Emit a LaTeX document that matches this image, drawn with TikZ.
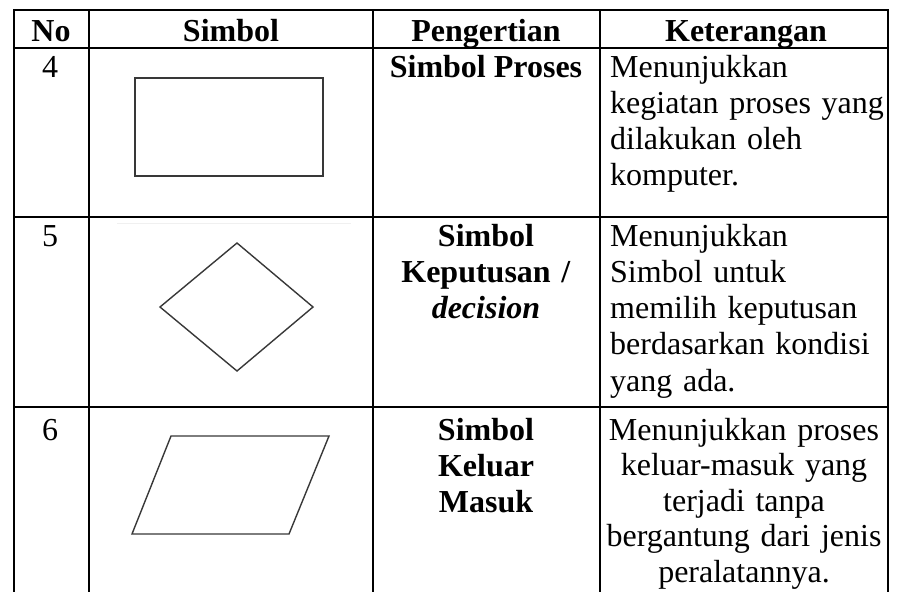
\documentclass[tikz,border=0pt]{standalone}
\usepackage{fontspec}
\setmainfont{Liberation Serif}
\begin{document}
\begin{tikzpicture}[x=1pt,y=-1pt,
  rule/.style={line width=2.2pt, black},
  shp/.style={line width=1.4pt, draw=black!78, line join=miter},
  txt/.style={font=\fontsize{32}{36.3}\selectfont, inner sep=0pt},
  lcell/.style={txt, anchor=base west, align=left},
  ccell/.style={txt, anchor=base, align=center}]
\useasboundingbox (0,0) rectangle (897,592);
% grid
\foreach \y in {10,48,217,407} \draw[rule] (13,\y) -- (889,\y);
\foreach \x in {14,89,373,600,888} \draw[rule] (\x,9) -- (\x,592);
% header
\node[ccell] (h1) at (51,41) {\textbf{No}};
\node[ccell] (h2) at (231,41) {\textbf{Simbol}};
\node[ccell] (h3) at (486,41) {\textbf{Pengertian}};
\node[ccell] (h4) at (746,41) {\textbf{Keterangan}};
% row 4
\node[ccell] (n4) at (50,77) {4};
\node[ccell] (p4) at (486,77) {\textbf{Simbol Proses}};
\node[lcell, text width=276pt] (k4) at (610,77) {Menunjukkan\\kegiatan proses yang\\dilakukan oleh\\komputer.};
\draw[shp] (135,78) rectangle (323,176);
% row 5
\node[ccell] (n5) at (50,246) {5};
\node[ccell, text width=227pt] (p5) at (486,246) {\textbf{Simbol}\\\textbf{Keputusan /}\\\textbf{\textit{decision}}};
\node[lcell, text width=276pt] (k5) at (610,246) {Menunjukkan\\Simbol untuk\\memilih keputusan\\berdasarkan kondisi\\yang ada.};
\draw[gray!12, line width=0.8pt] (117,223) -- (351,223);
\draw[shp] (237,243) -- (313,307) -- (237,371) -- (160,307) -- cycle;
% row 6
\node[ccell] (n6) at (50,440) {6};
\node[ccell, text width=150pt] (p6) at (486,440) {\textbf{Simbol}\\\textbf{Keluar}\\\textbf{Masuk}};
\node[ccell, text width=286pt, font=\fontsize{32}{35.6}\selectfont] (k6) at (744,440) {Menunjukkan proses\\keluar-masuk yang\\terjadi tanpa\\bergantung dari jenis\\peralatannya.};
\draw[shp] (171,436) -- (329,436) -- (289,534) -- (132,534) -- cycle;
\end{tikzpicture}
\end{document}
